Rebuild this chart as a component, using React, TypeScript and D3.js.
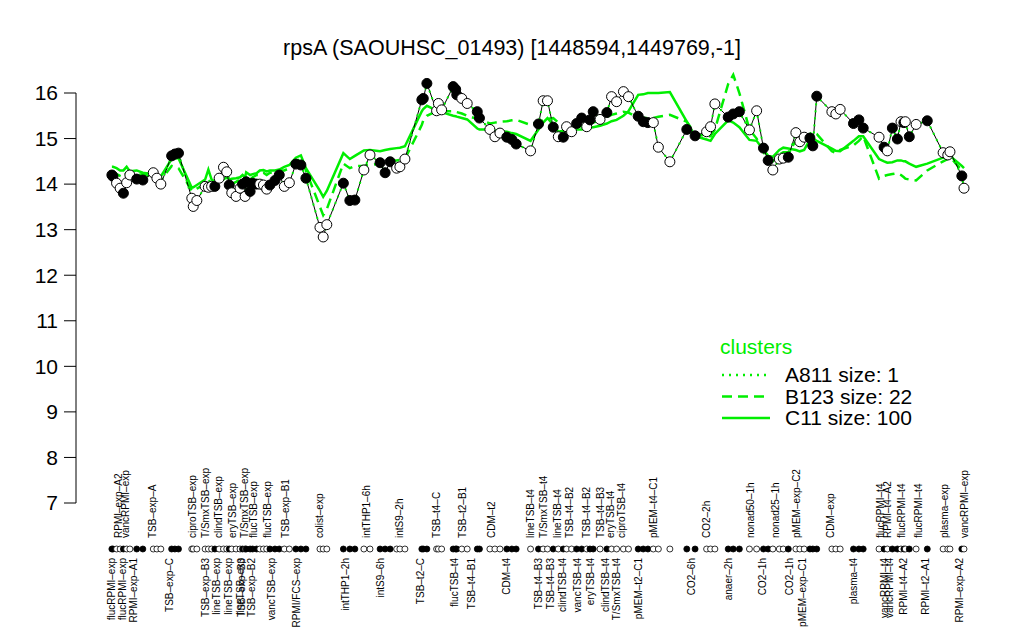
import React from "react";
import * as d3 from "d3";

const title = "rpsA (SAOUHSC_01493) [1448594,1449769,-1]";

const samplePos = [3.3,3.6,4.6,5.6,6.5,7.4,8.3,10.2,11.9,14.8,15.8,16.9,19.9,20.8,21.8,25.5,25.9,26.9,29.2,30.1,31.0,31.9,33.1,34.3,35.2,35.9,36.6,37.8,38.9,39.6,40.3,40.6,41.7,42.4,43.5,44.4,45.4,46.3,47.2,48.6,49.8,51.2,52.6,54.4,55.8,57.2,61.1,62.0,63.0,67.6,69.4,70.8,73.3,75.0,77.8,79.2,80.6,82.4,83.3,84.7,89.4,89.8,90.8,93.5,94.0,94.9,98.1,98.8,99.1,100.5,102.0,104.8,105.4,108.3,109.7,111.1,113.0,114.4,115.6,119.6,121.8,123.1,124.3,125.9,127.3,128.7,129.6,131.0,132.4,133.8,135.2,136.1,137.0,138.9,140.8,142.1,143.5,145.4,146.8,149.5,150.9,152.2,153.7,155.1,158.3,163.0,165.3,168.5,169.6,170.8,174.5,175.9,177.6,180.4,182.4,184.3,185.6,186.9,188.7,189.8,191.2,193.3,194.4,195.6,197.2,198.0,199.1,203.3,204.4,205.6,209.3,210.8,212.0,216.4,217.8,218.7,220.1,221.5,222.5,223.3,223.7,224.8,226.7,229.8,234.2,235.5,236.1,239.4,240.0];

const geneValues = [14.20,14.17,14.02,13.91,13.80,14.03,14.20,14.11,14.09,14.25,14.13,14.00,14.62,14.66,14.68,13.69,13.51,13.64,13.95,13.93,13.95,13.95,14.13,14.37,14.27,13.98,13.81,13.73,13.91,14.00,13.73,14.05,13.84,14.02,14.00,14.00,13.98,13.89,13.98,14.08,14.20,13.95,14.03,14.44,14.42,14.13,13.05,12.84,13.11,14.02,13.64,13.65,14.31,14.64,14.47,14.25,14.49,14.35,14.38,14.55,15.85,15.88,16.21,15.61,15.77,15.63,16.14,16.08,15.96,15.88,15.77,15.59,15.45,15.20,15.04,15.12,15.03,14.98,14.88,14.73,15.32,15.83,15.83,15.25,15.04,15.03,15.26,15.15,15.33,15.45,15.26,15.41,15.59,15.42,15.57,15.92,15.81,16.03,15.92,15.49,15.37,15.35,15.35,14.81,14.49,15.20,15.06,15.15,15.26,15.76,15.47,15.54,15.59,15.19,15.61,14.79,14.52,14.31,14.55,14.57,14.59,15.13,14.93,15.03,15.01,14.84,15.93,15.59,15.54,15.64,15.33,15.41,15.23,15.03,14.81,14.73,15.23,14.99,15.37,15.35,15.37,15.04,15.31,15.39,14.69,14.64,14.71,14.18,13.91];

const sampleFilled = [1,1,0,0,1,0,0,1,1,0,0,0,1,1,1,0,0,0,0,0,0,1,0,0,0,1,0,0,0,1,0,1,1,1,1,0,0,0,1,1,1,0,0,1,1,1,0,0,0,1,1,1,0,0,1,1,1,0,0,0,1,1,1,0,0,0,1,1,1,0,0,1,1,0,0,0,1,1,1,0,1,0,0,1,0,1,0,0,1,1,0,1,1,0,1,0,0,0,0,1,1,1,0,0,0,1,1,0,0,0,1,1,1,0,0,1,1,0,0,0,1,0,0,0,1,1,1,0,0,0,1,1,1,0,1,0,1,1,0,1,0,1,0,1,0,0,0,1,0];

const clusterC11 = [14.38,14.38,14.35,14.3,14.3,14.38,14.28,14.3,14.25,14.22,14.18,14.17,14.55,14.57,14.57,13.92,13.93,13.98,14.1,14.32,14.1,14.05,14.13,14.2,14.24,14.1,14.12,14.13,14.15,14.2,14.15,14.26,14.2,14.22,14.24,14.3,14.31,14.28,14.3,14.3,14.32,14.38,14.42,14.58,14.63,14.35,13.85,13.72,13.85,14.68,14.55,14.62,14.74,14.75,14.72,14.75,14.77,14.79,14.8,14.83,15.6,15.65,15.72,15.62,15.6,15.58,15.5,15.49,15.48,15.45,15.42,15.22,15.2,15.2,15.18,15.16,15.15,15.12,15.1,14.95,15.2,15.35,15.45,15.3,15.15,15.17,15.18,15.19,15.2,15.2,15.22,15.23,15.25,15.28,15.33,15.38,15.41,15.5,15.6,15.96,15.97,16.0,16.0,16.0,16.02,15.37,15.05,14.98,14.95,15.1,15.4,15.35,15.25,14.97,14.95,14.75,14.62,14.6,14.75,14.8,14.78,14.75,14.72,14.75,14.98,15.0,14.95,14.78,14.73,14.72,14.95,15.05,15.05,14.55,14.5,14.47,14.48,14.52,14.52,14.5,14.5,14.45,14.38,14.45,14.58,14.6,14.62,14.4,14.35];

const clusterB123 = [14.28,14.27,14.22,14.18,14.15,14.25,14.2,14.2,14.22,14.15,14.1,14.08,14.4,14.38,14.35,13.85,13.85,13.9,14.0,14.1,14.0,13.95,14.05,14.1,14.15,14.0,14.0,14.05,14.1,14.15,14.05,14.2,14.1,14.15,14.2,14.2,14.25,14.2,14.25,14.25,14.3,14.3,14.35,14.5,14.55,14.3,13.5,13.32,13.45,14.45,14.35,14.4,14.4,14.42,14.45,14.5,14.52,14.52,14.53,14.55,15.3,15.4,15.5,15.6,15.62,15.6,15.6,15.6,15.58,15.55,15.5,15.43,15.42,15.33,15.35,15.37,15.38,15.4,15.41,15.3,15.37,15.4,15.43,15.45,15.35,15.3,15.27,15.23,15.25,15.27,15.29,15.3,15.35,15.4,15.48,15.52,15.55,15.59,15.57,15.45,15.45,15.45,15.45,15.48,15.52,15.37,15.1,15.05,15.05,15.2,16.2,16.4,16.0,15.2,15.0,14.7,14.55,14.5,14.65,14.7,14.7,14.95,14.9,15.0,15.1,15.15,15.1,14.72,14.68,14.75,14.85,14.95,15.05,14.12,14.18,14.2,14.22,14.24,14.2,14.15,14.12,14.1,14.08,14.3,14.5,14.55,14.6,14.3,14.25];

const topLabels = ["RPMI\u2013exp\u2013A2","vancRPMI\u2013exp","TSB\u2013exp\u2013A","ciproTSB\u2013exp","T/SmxTSB\u2013exp","clindTSB\u2013exp","eryTSB\u2013exp","T/SmxTSB\u2013exp","flucTSB\u2013exp","flucTSB\u2013exp","TSB\u2013exp\u2013B1","colist\u2013exp","intTHP1\u20136h","intS9\u20132h","TSB\u2013t4\u2013C","TSB\u2013t2\u2013B1","CDM\u2013t2","lineTSB\u2013t4","T/SmxTSB\u2013t4","lineTSB\u2013t4","TSB\u2013t4\u2013B2","TSB\u2013t4\u2013B2","TSB\u2013t4\u2013B3","eryTSB\u2013t4","ciproTSB\u2013t4","pMEM\u2013t4\u2013C1","CO2\u20132h","nonad50\u20131h","nonad25\u20131h","pMEM\u2013exp\u2013C2","CDM\u2013exp","flucRPMI\u2013t4","RPMI\u2013t4\u2013A2","flucRPMI\u2013t4","flucRPMI\u2013t4","plasma\u2013exp","vancRPMI\u2013exp"];
const topLabelPos = [5.0,7.2,14.7,25.6,29.4,32.8,36.9,40.0,42.5,46.4,51.4,61.1,74.1,83.3,93.5,100.7,108.8,119.6,123.3,127.0,130.4,135.2,138.9,141.9,144.9,153.7,168.5,180.6,187.5,193.5,202.8,216.7,218.7,222.7,227.3,234.7,240.0];

const bottomLabels = ["flucRPMI\u2013exp","flucRPMI\u2013exp","RPMI\u2013exp\u2013A1","TSB\u2013exp\u2013C","TSB\u2013exp\u2013B3","lineTSB\u2013exp","lineTSB\u2013exp","lineTSB\u2013exp","TSB\u2013exp\u2013B3","TSB\u2013exp\u2013B2","vancTSB\u2013exp","RPMI/FCS\u2013exp","intTHP1\u20132h","intS9\u20136h","TSB\u2013t2\u2013C","flucTSB\u2013t4","TSB\u2013t4\u2013B1","CDM\u2013t4","TSB\u2013t4\u2013B3","TSB\u2013t4\u2013B3","clindTSB\u2013t4","vancTSB\u2013t4","eryTSB\u2013t4","clindTSB\u2013t4","T/SmxTSB\u2013t4","pMEM\u2013t2\u2013C1","CO2\u20136h","anaer\u20132h","CO2\u20131h","CO2\u20131h","pMEM\u2013exp\u2013C1","plasma\u2013t4","vancRPMI\u2013t4","vancRPMI\u2013t4","RPMI\u2013t4\u2013A2","RPMI\u2013t2\u2013A1","RPMI\u2013exp\u2013A2"];
const bottomLabelPos = [3.3,6.3,9.2,19.4,29.4,32.4,35.6,38.9,39.4,42.1,47.7,54.6,68.1,77.8,88.9,98.6,103.3,113.0,121.9,125.0,128.5,132.5,136.3,140.3,143.6,149.7,164.4,174.7,183.9,191.5,195.2,209.4,217.8,219.4,223.3,229.2,238.7];

const yTicks = [7, 8, 9, 10, 11, 12, 13, 14, 15, 16];

const legendTitle = "clusters";
const legendNames = ["A811 size: 1", "B123 size: 22", "C11 size: 100"];
const legendDash = ["2,5", "10,6", "none"];

const GREEN = "#00ee00";
const FONT = "'Liberation Sans', Arial, Helvetica, sans-serif";

export default function App() {
  const W = 1024, H = 640;
  const x = d3.scaleLinear().domain([0, 240]).range([100, 964]);
  const y = d3.scaleLinear().domain([7, 16]).range([503, 93]);
  const axisX = 76;

  const idx = d3.range(samplePos.length);
  const line = (vals: number[]) =>
    d3.line<number>().x((i) => x(samplePos[i])).y((i) => y(vals[i]))(idx) || "";

  const markerY = 549;
  const topLabelY = 538;
  const bottomLabelY = 558;

  return (
    <svg width={W} height={H} style={{ position: "absolute", left: 0, top: 0, background: "#fff" }} fontFamily={FONT}>
      <rect x={0} y={0} width={W} height={H} fill="#fff" />
      <text x={512} y={55} textAnchor="middle" fontSize={21.5}>{title}</text>

      {/* y axis */}
      <line x1={axisX} x2={axisX} y1={y(7)} y2={y(16)} stroke="#000" strokeWidth={1} />
      {yTicks.map((t) => (
        <g key={t}>
          <line x1={axisX - 12} x2={axisX} y1={y(t)} y2={y(t)} stroke="#000" />
          <text x={axisX - 18} y={y(t)} dy="0.35em" textAnchor="end" fontSize={21}>{t}</text>
        </g>
      ))}

      {/* cluster lines */}
      <path d={line(clusterC11)} fill="none" stroke={GREEN} strokeWidth={2.5} />
      <path d={line(clusterB123)} fill="none" stroke={GREEN} strokeWidth={2.5} strokeDasharray="10,6" />

      {/* gene profile */}
      <path d={line(geneValues)} fill="none" stroke="#000" strokeWidth={1} />
      <path d={line(geneValues)} fill="none" stroke={GREEN} strokeWidth={2} strokeDasharray="2,5" />
      {idx.map((i) => (
        <circle key={i} cx={x(samplePos[i])} cy={y(geneValues[i])} r={5}
          fill={sampleFilled[i] ? "#000" : "#fff"} stroke="#000" strokeWidth={1} />
      ))}

      {/* sample markers row */}
      {idx.map((i) => (
        <circle key={"m" + i} cx={x(samplePos[i])} cy={markerY} r={3}
          fill={sampleFilled[i] ? "#000" : "#fff"} stroke="#000" strokeWidth={0.8} />
      ))}

      {/* labels */}
      {topLabels.map((s, i) => (
        <text key={"t" + i} transform={`translate(${x(topLabelPos[i]) + 3.5},${topLabelY}) rotate(-90)`}
          fontSize={10} textAnchor="start">{s}</text>
      ))}
      {bottomLabels.map((s, i) => (
        <text key={"b" + i} transform={`translate(${x(bottomLabelPos[i]) + 3.5},${bottomLabelY}) rotate(-90)`}
          fontSize={10} textAnchor="end">{s}</text>
      ))}

      {/* legend */}
      <text x={720} y={354} fontSize={21} fill={GREEN}>{legendTitle}</text>
      {legendNames.map((s, i) => (
        <g key={s}>
          <line x1={722} x2={770} y1={375 + i * 21.5} y2={375 + i * 21.5} stroke={GREEN} strokeWidth={2.5}
            strokeDasharray={legendDash[i]} />
          <text x={785} y={375 + i * 21.5} dy="0.35em" fontSize={21}>{s}</text>
        </g>
      ))}
    </svg>
  );
}
